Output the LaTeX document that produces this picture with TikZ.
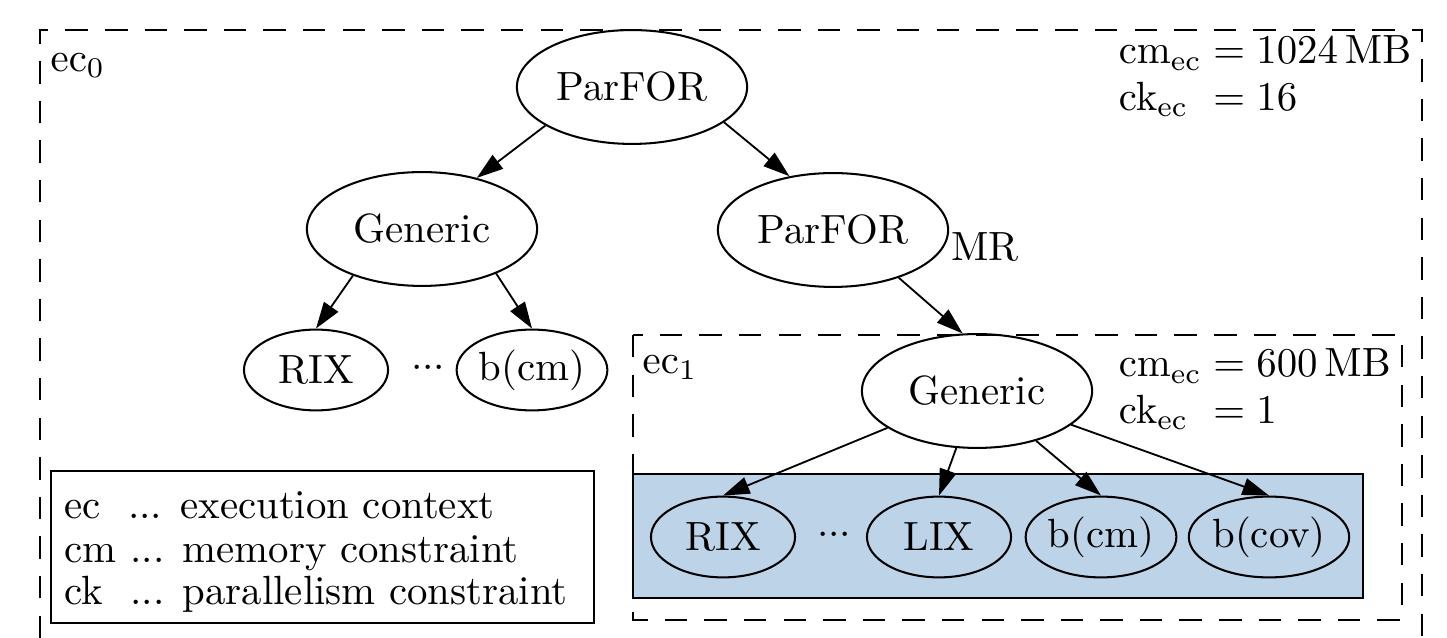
\documentclass[tikz,border=0pt]{standalone}
\usetikzlibrary{shapes.geometric,arrows.meta}
\definecolor{boxblue}{RGB}{189,211,231}
\renewcommand{\arraystretch}{0.95}
\newcommand{\tightdots}{${\cdotp}{\cdotp}{\cdotp}$}
\begin{document}
\begin{tikzpicture}[x=0.245pt,y=-0.245pt,
  big/.style={draw,ellipse,inner sep=0pt,minimum width=56.4pt,minimum height=27.9pt,line width=0.5pt},
  small/.style={draw,ellipse,inner sep=0pt,minimum width=35.3pt,minimum height=19.8pt,line width=0.5pt},
  edge/.style={-{Triangle[length=6.5pt,width=4.2pt]},line width=0.45pt},
  ctx/.style={dash pattern=on 5.5pt off 4.2pt,line width=0.45pt},
  lbl/.style={inner sep=0pt}]
\useasboundingbox (0,0) rectangle (1447,638);
% outer execution context
\draw[ctx] (40,638) -- (40,30) -- (1422,30) -- (1422,638);
% inner execution context
\draw[ctx] (633,335) rectangle (1402,620);
% blue group
\draw[fill=boxblue,line width=0.45pt] (633,474) rectangle (1363,598);
% legend
\draw[line width=0.45pt] (51,471) rectangle (594,623);
\node[lbl,anchor=base west] (leg1) at (64,519) {ec\ \ ... execution context};
\node[lbl,anchor=base west] (leg2) at (64,562) {cm ... memory constraint};
\node[lbl,anchor=base west] (leg3) at (64,604) {ck\ \ ... parallelism constraint};
% labels
\node[lbl] (ec0) at (78,66) {$\mathrm{ec}_0$};
\node[lbl] (ec1) at (670,368) {$\mathrm{ec}_1$};
\node[lbl] (mr) at (985,247) {MR};
\node[lbl,anchor=base west] (cons0) at (1118,64) {\begin{tabular}[t]{@{}l@{}l@{}}$\mathrm{cm}_{\mathrm{ec}}$ & ${}=1024\,\mathrm{MB}$\\ $\mathrm{ck}_{\mathrm{ec}}$ & ${}=16$\end{tabular}};
\node[lbl,anchor=base west] (cons1) at (1118,377) {\begin{tabular}[t]{@{}l@{}l@{}}$\mathrm{cm}_{\mathrm{ec}}$ & ${}=600\,\mathrm{MB}$\\ $\mathrm{ck}_{\mathrm{ec}}$ & ${}=1$\end{tabular}};
% nodes
\node[big] (top) at (632,87) {ParFOR};
\node[big] (gen0) at (422,229) {Generic};
\node[big] (par1) at (833,230) {ParFOR};
\node[small] (rix0) at (316,370) {RIX};
\node[lbl] (dots0) at (428,368) {\tightdots};
\node[small] (bcm0) at (532,370) {b(cm)};
\node[big] (gen1) at (977,391) {Generic};
\node[small] (rix1) at (723,537) {RIX};
\node[lbl] (dots1) at (834,535) {\tightdots};
\node[small] (lix1) at (939,537) {LIX};
\node[small] (bcm1) at (1101,537) {b(cm)};
\node[small] (bcov1) at (1269,537) {b(cov)};
% edges
\draw[edge] (top.204) -- (gen0.43);
\draw[edge] (top.-21) -- (par1.129);
\draw[edge] (gen0.214) -- (rix0.north);
\draw[edge] (gen0.-31) -- (bcm0.north);
\draw[edge] (par1.-36) -- (gen1.104);
\draw[edge] (gen1) -- (rix1.north);
\draw[edge] (gen1) -- (lix1.north);
\draw[edge] (gen1) -- (bcm1.north);
\draw[edge] (gen1) -- (bcov1.north);
\end{tikzpicture}
\end{document}
